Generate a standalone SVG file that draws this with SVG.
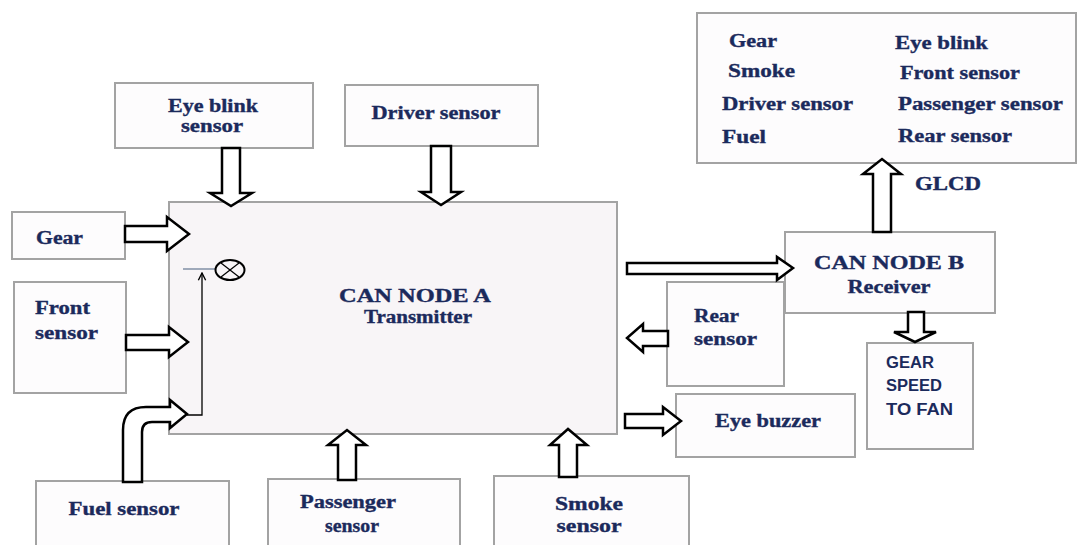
<svg xmlns="http://www.w3.org/2000/svg" width="1077" height="545" viewBox="0 0 1077 545">
<style>
.box{fill:#fdfcfd;stroke:#a3a3a3;stroke-width:2}
.main{fill:#f8f5f7;stroke:#a3a3a3;stroke-width:2}
.arr{fill:#ffffff;stroke:#000;stroke-width:2.5;stroke-linejoin:miter}
.t{font-family:"Liberation Serif","Times New Roman",serif;font-weight:bold;font-size:18px;fill:#1b2a5c;stroke:#1b2a5c;stroke-width:0.35}
.s{font-family:"Liberation Sans",Arial,sans-serif;font-weight:bold;font-size:16px;fill:#1b2a5c}
.thin{fill:none;stroke:#000;stroke-width:1.3}
</style>
<defs>
<marker id="tip" viewBox="0 0 10 10" refX="9" refY="5" markerWidth="7" markerHeight="7" orient="auto">
<path d="M1,1 L9,5 L1,9" fill="none" stroke="#000" stroke-width="1.5"/>
</marker>
</defs>
<rect width="1077" height="545" fill="#ffffff"/>

<g id="canA">
<rect class="main" x="169" y="202" width="448" height="232"/>
<text class="t" x="415" y="302" text-anchor="middle" font-size="23" textLength="152" lengthAdjust="spacingAndGlyphs">CAN NODE A</text>
<text class="t" x="418" y="323" text-anchor="middle" font-size="16" textLength="108" lengthAdjust="spacingAndGlyphs">Transmitter</text>
</g>
<g id="eyeblink">
<rect class="box" x="115" y="83" width="198" height="65"/>
<text class="t" x="213" y="112" text-anchor="middle" textLength="90" lengthAdjust="spacingAndGlyphs">Eye blink</text>
<text class="t" x="212" y="132" text-anchor="middle" textLength="62" lengthAdjust="spacingAndGlyphs">sensor</text>
</g>
<g id="driver">
<rect class="box" x="345" y="85" width="193" height="61"/>
<text class="t" x="436" y="119" text-anchor="middle" textLength="129" lengthAdjust="spacingAndGlyphs">Driver sensor</text>
</g>
<g id="gear">
<rect class="box" x="12" y="212" width="113" height="47"/>
<text class="t" x="36" y="244" textLength="47" lengthAdjust="spacingAndGlyphs">Gear</text>
</g>
<g id="front">
<rect class="box" x="14" y="282" width="112" height="111"/>
<text class="t" x="35" y="314" textLength="55" lengthAdjust="spacingAndGlyphs">Front</text>
<text class="t" x="35" y="339" textLength="63" lengthAdjust="spacingAndGlyphs">sensor</text>
</g>
<g id="fuel">
<rect class="box" x="36" y="481" width="193" height="70"/>
<text class="t" x="124" y="515" text-anchor="middle" textLength="111" lengthAdjust="spacingAndGlyphs">Fuel sensor</text>
</g>
<g id="passenger">
<rect class="box" x="268" y="479" width="192" height="72"/>
<text class="t" x="348" y="508" text-anchor="middle" textLength="96" lengthAdjust="spacingAndGlyphs">Passenger</text>
<text class="t" x="352" y="532" text-anchor="middle" textLength="54" lengthAdjust="spacingAndGlyphs">sensor</text>
</g>
<g id="smoke">
<rect class="box" x="494" y="476" width="195" height="75"/>
<text class="t" x="589" y="510" text-anchor="middle" textLength="68" lengthAdjust="spacingAndGlyphs">Smoke</text>
<text class="t" x="589" y="532" text-anchor="middle" textLength="65" lengthAdjust="spacingAndGlyphs">sensor</text>
</g>
<g id="glcd">
<rect class="box" x="697" y="13" width="379" height="150"/>
<text class="t" x="729" y="47" textLength="48" lengthAdjust="spacingAndGlyphs">Gear</text>
<text class="t" x="728" y="77" textLength="67" lengthAdjust="spacingAndGlyphs">Smoke</text>
<text class="t" x="722" y="110" textLength="131" lengthAdjust="spacingAndGlyphs">Driver sensor</text>
<text class="t" x="722" y="143" textLength="44" lengthAdjust="spacingAndGlyphs">Fuel</text>
<text class="t" x="895" y="49" textLength="93" lengthAdjust="spacingAndGlyphs">Eye blink</text>
<text class="t" x="900" y="79" textLength="120" lengthAdjust="spacingAndGlyphs">Front sensor</text>
<text class="t" x="898" y="110" textLength="165" lengthAdjust="spacingAndGlyphs">Passenger sensor</text>
<text class="t" x="898" y="142" textLength="114" lengthAdjust="spacingAndGlyphs">Rear sensor</text>
</g>
<g id="glcdLabel">
<text class="t" x="948" y="190" text-anchor="middle" textLength="66" lengthAdjust="spacingAndGlyphs">GLCD</text>
</g>
<g id="canB">
<rect class="box" x="785" y="232" width="210" height="81"/>
<text class="t" x="889" y="269" text-anchor="middle" textLength="150" lengthAdjust="spacingAndGlyphs">CAN NODE B</text>
<text class="t" x="889" y="293" text-anchor="middle" textLength="83" lengthAdjust="spacingAndGlyphs">Receiver</text>
</g>
<g id="rear">
<rect class="box" x="667" y="282" width="117" height="104"/>
<text class="t" x="694" y="322" textLength="45" lengthAdjust="spacingAndGlyphs">Rear</text>
<text class="t" x="694" y="345" textLength="63" lengthAdjust="spacingAndGlyphs">sensor</text>
</g>
<g id="gearspeed">
<rect class="box" x="867" y="343" width="106" height="106"/>
<text class="s" x="886" y="368" textLength="48" lengthAdjust="spacingAndGlyphs">GEAR</text>
<text class="s" x="886" y="391" textLength="56" lengthAdjust="spacingAndGlyphs">SPEED</text>
<text class="s" x="886" y="415" textLength="67" lengthAdjust="spacingAndGlyphs">TO FAN</text>
</g>
<g id="buzzer">
<rect class="box" x="676" y="394" width="179" height="63"/>
<text class="t" x="768" y="427" text-anchor="middle" textLength="106" lengthAdjust="spacingAndGlyphs">Eye buzzer</text>
</g>
<g id="mult">
<line x1="183" y1="269" x2="215" y2="269" stroke="#6f7f9a" stroke-width="1.3"/>
<ellipse cx="230" cy="270" rx="14.5" ry="10" fill="none" stroke="#000" stroke-width="2"/>
<line x1="221" y1="263" x2="239" y2="277" stroke="#000" stroke-width="1.2"/>
<line x1="221" y1="277" x2="239" y2="263" stroke="#000" stroke-width="1.2"/>
</g>

<g id="connectors">
<polygon class="arr" points="222,148 240,148 240,193 252,193 231,206 210,193 222,193"/>
<polygon class="arr" points="431,146 451,146 451,192 461,192 441,205 421,192 431,192"/>
<polygon class="arr" points="125,226 167,226 167,217 189,234 167,251 167,242 125,242"/>
<polygon class="arr" points="126,335 169,335 169,327 188,342 169,357 169,350 126,350"/>
<path class="arr" d="M123,482 L123,430 Q123,407 146,407 L170,407 L170,400 L187,414 L170,428 L170,422 L152,422 Q142,422 142,432 L142,482 Z"/>
<polyline class="thin" points="187,415 202,415 202,273" marker-end="url(#tip)"/>
<polygon class="arr" points="338,480 356,480 356,445 366,445 347,430 328,445 338,445"/>
<polygon class="arr" points="559,477 577,477 577,445 587,445 568,429 550,445 559,445"/>
<polygon class="arr" points="627,263 777,263 777,257 793,268 777,280 777,274 627,274"/>
<polygon class="arr" points="668,331 643,331 643,324 627,338 643,352 643,346 668,346"/>
<polygon class="arr" points="625,414 663,414 663,407 681,421 663,435 663,428 625,428"/>
<polygon class="arr" points="873,232 891,232 891,174 901,174 882,159 863,174 873,174"/>
<polygon class="arr" points="908,312 924,312 924,332 936,332 915,342 894,332 908,332"/>
</g>
</svg>
